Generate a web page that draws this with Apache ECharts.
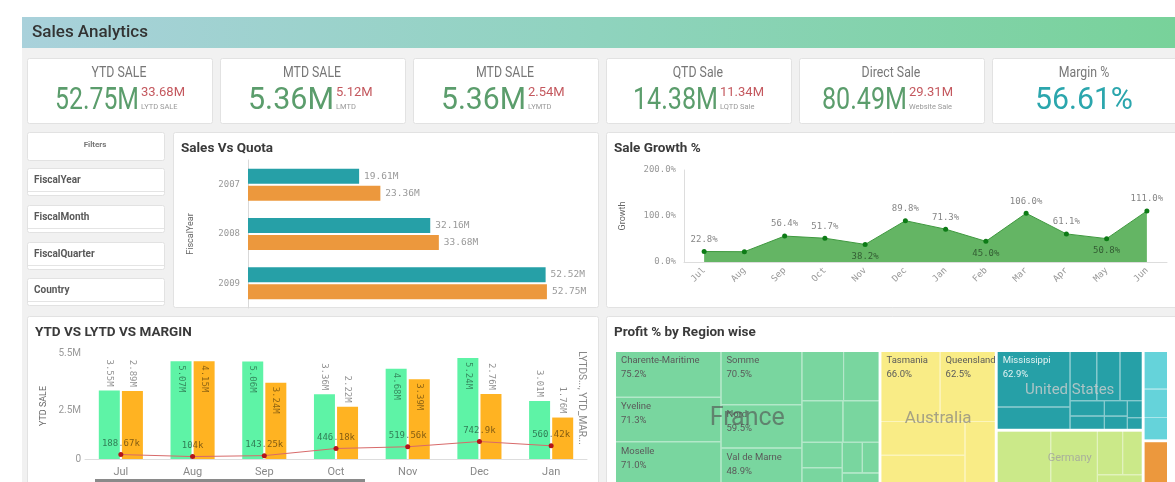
<!DOCTYPE html>
<html>
<head>
<meta charset="utf-8">
<title>Sales Analytics</title>
<script src="https://cdn.jsdelivr.net/npm/echarts@6/dist/echarts.min.js"></script>
<style>
  html, body { margin: 0; padding: 0; background: #fff; overflow: hidden; }
  #main { width: 1175px; height: 482px; }
</style>
</head>
<body>
<div id="main"></div>
<script>
// KPI tiles
const kpiTitles = ['YTD SALE', 'MTD SALE', 'MTD SALE', 'QTD Sale', 'Direct Sale', 'Margin %']
const kpiValues = ['52.75M', '5.36M', '5.36M', '14.38M', '80.49M', '56.61%']
const kpiCompare = ['33.68M', '5.12M', '2.54M', '11.34M', '29.31M', '']
const kpiCompareLabels = ['LYTD SALE', 'LMTD', 'LYMTD', 'LQTD Sale', 'Website Sale', '']

const filterFields = ['FiscalYear', 'FiscalMonth', 'FiscalQuarter', 'Country']

// Sales Vs Quota (M)
const fiscalYears = ['2007', '2008', '2009']
const quotaValues = [19.61, 32.16, 52.52]
const salesValues = [23.36, 33.68, 52.75]

// Sale Growth %
const growthMonths = ['Jul', 'Aug', 'Sep', 'Oct', 'Nov', 'Dec', 'Jan', 'Feb', 'Mar', 'Apr', 'May', 'Jun']
const growthValues = [22.8, 22.4, 56.4, 51.7, 38.2, 89.8, 71.3, 45.0, 106.0, 61.1, 50.8, 111.0]
const growthTicks = [0, 100, 200]
const growthHiddenLabels = ['Aug']

// YTD vs LYTD vs margin
const ytdMonths = ['Jul', 'Aug', 'Sep', 'Oct', 'Nov', 'Dec', 'Jan']
const ytdSale = [3.55, 5.07, 5.06, 3.36, 4.68, 5.24, 3.01]      // M
const lytdSale = [2.89, 4.15, 3.24, 2.22, 3.39, 2.76, 1.76]     // M
const ytdMargin = [188.67, 104, 143.25, 446.18, 519.56, 742.9, 560.42]  // k
const ytdTicks = [0, 2.5, 5.5]

// Profit % by region (size = area, profit = label)
const countries = ['France', 'Australia', 'United States', 'Germany', '', '']
const regionNames = [
  ['Charente-Maritime', 'Yveline', 'Moselle', 'Somme', 'Nord', 'Val de Marne', '', '', '', '', '', '', '', '', ''],
  ['Tasmania', 'Queensland', '', '', ''],
  ['Mississippi', '', '', '', '', '', '', '', '', '', ''],
  ['', '', '', '', ''],
  ['', '', ''],
  ['']
]
const regionSize = [
  [4700, 4550, 4500, 4200, 3400, 2950, 2000, 1700, 1650, 1450, 1000, 700, 600, 500, 450],
  [4070, 3800, 2770, 2500, 1900],
  [4000, 1600, 1300, 1130, 1080, 520, 450, 350, 300, 250, 170],
  [2900, 2530, 1100, 850, 480],
  [925, 700, 550],
  [1100]
]
const regionProfit = [
  [75.2, 71.3, 71.0, 70.5, 59.5, 48.9],
  [66.0, 62.5],
  [62.9],
  [], [], []
]

const countryColors = ['#79d69f', '#f9ec86', '#26a0a7', '#cbe989', '#65d3da', '#ec983d']
const countryLabelSize = [25, 17, 15, 11, 10, 10]
const countryLabelColor = ['rgba(80,80,80,0.62)', 'rgba(130,130,130,0.7)', 'rgba(205,205,205,0.8)', 'rgba(160,160,160,0.8)', '#999', '#999']

const mono = 'DejaVu Sans Mono'
const chart = echarts.init(document.getElementById('main'))

const ctx = document.createElement('canvas').getContext('2d')
function textWidth(str, font) {
  ctx.font = font
  return ctx.measureText(str).width
}

function tint(hex, t) {
  const n = parseInt(hex.slice(1), 16)
  const mix = c => Math.round(c + (255 - c) * t)
  return 'rgb(' + mix(n >> 16) + ',' + mix((n >> 8) & 255) + ',' + mix(n & 255) + ')'
}

function txt(text, x, y, font, fill, align, extra) {
  const a = align || 'left'
  return Object.assign({
    type: 'text', x: x, y: y, z: 1, silent: true,
    style: { text: text, font: font, fill: fill, align: a, verticalAlign: 'middle', textAlign: a, textVerticalAlign: 'middle' }
  }, extra || {})
}

function box(x, y, w, h) {
  return {
    type: 'rect', z: 0, silent: true,
    shape: { x: x + 0.5, y: y + 0.5, width: w, height: h, r: 2 },
    style: { fill: '#fff', stroke: '#e2e2e2', lineWidth: 1 }
  }
}

// page frame
const graphics = []
graphics.push({ type: 'rect', z: 0, silent: true, shape: { x: 22, y: 48, width: 1153, height: 434 }, style: { fill: '#f1f1f1' } })
graphics.push({
  type: 'rect', z: 0, silent: true, shape: { x: 22, y: 17, width: 1153, height: 31 },
  style: {
    fill: new echarts.graphic.LinearGradient(0, 0, 1, 0, [
      { offset: 0, color: '#a9d1db' }, { offset: 0.5, color: '#8fd3be' }, { offset: 1, color: '#78d29a' }
    ])
  }
})
graphics.push(txt('Sales Analytics', 32, 33, '500 17px Roboto', '#333'))

// KPI tiles
const kpiLeft = [27, 220, 413, 606, 799, 992]
const valueLeft = [55, 248, 441, 633, 822]
const compareLeft = [141, 336, 528, 720, 909]
kpiTitles.forEach((t, i) => {
  const cx = kpiLeft[i] + 92
  graphics.push(box(kpiLeft[i], 58, 185, 65))
  graphics.push(txt(t, cx, 73, '14px Roboto', '#777', 'center', { scaleX: 0.88 }))
  if (kpiCompare[i]) {
    const w = compareLeft[i] - 2 - valueLeft[i]
    const s = Math.min(1, w / textWidth(kpiValues[i], '32px Roboto'))
    graphics.push(txt(kpiValues[i], valueLeft[i], 101, '32px Roboto', '#5b9d6c', 'left', { scaleX: s }))
    graphics.push(txt(kpiCompare[i], compareLeft[i], 93, '13px Roboto', '#c4585e'))
    graphics.push(txt(kpiCompareLabels[i], compareLeft[i], 107, '7.5px Roboto', '#999'))
  } else {
    const s = Math.min(1, 98 / textWidth(kpiValues[i], '32px Roboto'))
    graphics.push(txt(kpiValues[i], cx, 101, '32px Roboto', '#2ba6ad', 'center', { scaleX: s }))
  }
})

// filters
graphics.push(box(27, 132, 137, 28))
graphics.push(txt('Filters', 95, 145, 'bold 8px Roboto', '#777', 'center'))
const filterTop = [168, 205, 242, 278]
filterFields.forEach((f, i) => {
  graphics.push(box(27, filterTop[i], 137, 27))
  graphics.push({
    type: 'line', z: 1, silent: true,
    shape: { x1: 28, y1: filterTop[i] + 23.5, x2: 164, y2: filterTop[i] + 23.5 },
    style: { stroke: '#e4e4e4', lineWidth: 1 }
  })
  graphics.push(txt(f, 34, filterTop[i] + 12, 'bold 10px Roboto', '#595959'))
})

// chart cards
graphics.push(box(173, 132, 425, 175))
graphics.push(box(606, 132, 575, 175))
graphics.push(box(27, 316, 571, 175))
graphics.push(box(606, 316, 575, 175))
graphics.push(txt('Sales Vs Quota', 181, 149, 'bold 13.5px Roboto', '#3a3a3a'))
graphics.push(txt('Sale Growth %', 614, 149, 'bold 13.5px Roboto', '#3a3a3a'))
graphics.push(txt('YTD VS LYTD VS MARGIN', 35, 333, 'bold 13.5px Roboto', '#3a3a3a'))
graphics.push(txt('Profit % by Region wise', 614, 333, 'bold 13.5px Roboto', '#3a3a3a'))
graphics.push(txt('LYTDS..., YTD_MAR...', 581, 398, '10px Roboto', '#888', 'center', { rotation: -Math.PI / 2 }))
graphics.push({ type: 'rect', z: 1, silent: true, shape: { x: 95, y: 479, width: 270, height: 3 }, style: { fill: '#8a8a8a' } })

// label helpers
function growthLabel(i) {
  if (growthHiddenLabels.indexOf(growthMonths[i]) >= 0) return { show: false }
  const v = growthValues[i]
  const prev = i > 0 ? growthValues[i - 1] : Infinity
  const next = i < growthValues.length - 1 ? growthValues[i + 1] : Infinity
  return { position: v < prev && v < next ? 'bottom' : 'top' }
}

function barLabel(v, max) {
  // tall bars keep their label inside, short ones above
  return v / max > 0.7
    ? { position: 'insideTop', align: 'left' }
    : { position: 'top', align: 'right' }
}

// treemap data
const treeData = countries.map((c, i) => ({
  name: c,
  itemStyle: { color: countryColors[i], borderColor: tint(countryColors[i], 0.45) },
  children: regionNames[i].map((r, j) => ({
    name: r,
    value: regionSize[i][j],
    profit: regionProfit[i][j],
    itemStyle: { color: countryColors[i] },
    label: { color: i === 2 ? '#e4f3f3' : '#5a5a5a' }
  }))
}))
const countryTotals = regionSize.map(a => a.reduce((s, v) => s + v, 0))
const overlayData = countries.map((c, i) => ({
  name: c,
  value: countryTotals[i],
  label: { fontSize: countryLabelSize[i], color: countryLabelColor[i] }
}))

const treeBox = { left: 616, top: 352, width: 551, height: 133 }

const option = {
  animation: false,
  textStyle: { fontFamily: 'Roboto' },
  graphic: graphics,
  grid: [
    { left: 248, top: 160, width: 340, height: 148 },
    { left: 684, top: 170, width: 483, height: 92 },
    { left: 85, top: 353, width: 502, height: 106 }
  ],
  xAxis: [
    { gridIndex: 0, type: 'value', min: 0, max: 60, show: false },
    {
      gridIndex: 1, type: 'category', data: growthMonths,
      axisLine: { lineStyle: { color: '#ddd' } }, axisTick: { show: false },
      axisLabel: { rotate: 45, interval: 0, margin: 7, color: '#999', fontFamily: mono, fontSize: 9 }
    },
    {
      gridIndex: 2, type: 'category', data: ytdMonths,
      axisLine: { lineStyle: { color: '#ddd' } }, axisTick: { show: false },
      axisLabel: { margin: 8, color: '#888', fontSize: 11 }
    }
  ],
  yAxis: [
    {
      gridIndex: 0, type: 'category', inverse: true, data: fiscalYears,
      name: 'FiscalYear', nameLocation: 'middle', nameGap: 53,
      nameTextStyle: { color: '#666', fontSize: 9 },
      axisLine: { lineStyle: { color: '#d9d9d9' } }, axisTick: { show: false },
      axisLabel: { margin: 8, color: '#999', fontFamily: mono, fontSize: 9 }
    },
    {
      gridIndex: 1, type: 'value', min: 0, max: 200,
      name: 'Growth', nameLocation: 'middle', nameGap: 57,
      nameTextStyle: { color: '#666', fontSize: 9 },
      axisLine: { show: true, lineStyle: { color: '#ddd' } }, axisTick: { show: false },
      splitLine: { show: false },
      axisLabel: { customValues: growthTicks, formatter: v => v.toFixed(1) + '%', margin: 8, color: '#999', fontFamily: mono, fontSize: 9 }
    },
    {
      gridIndex: 2, type: 'value', min: 0, max: 5.5,
      name: 'YTD SALE', nameLocation: 'middle', nameGap: 37,
      nameTextStyle: { color: '#666', fontSize: 9 },
      axisLine: { show: false }, axisTick: { show: false }, splitLine: { show: false },
      axisLabel: { customValues: ytdTicks, formatter: v => (v === 0 ? '0' : v + 'M'), margin: 4, color: '#999', fontSize: 10 }
    },
    { gridIndex: 2, type: 'value', min: 0, max: 4.5, show: false, splitLine: { show: false } }
  ],
  series: [
    {
      name: 'Quota', type: 'bar', xAxisIndex: 0, yAxisIndex: 0, data: quotaValues,
      barWidth: 15, barGap: '13%', itemStyle: { color: '#26a0a7' },
      label: { show: true, position: 'right', distance: 5, formatter: p => p.value.toFixed(2) + 'M', color: '#999', fontFamily: mono, fontSize: 9.5 }
    },
    {
      name: 'Sales', type: 'bar', xAxisIndex: 0, yAxisIndex: 0, data: salesValues,
      barWidth: 15, barGap: '13%', itemStyle: { color: '#ec983d' },
      label: { show: true, position: 'right', distance: 5, formatter: p => p.value.toFixed(2) + 'M', color: '#999', fontFamily: mono, fontSize: 9.5 }
    },
    {
      name: 'Growth', type: 'line', xAxisIndex: 1, yAxisIndex: 1,
      data: growthValues.map((v, i) => ({ value: v, label: growthLabel(i) })),
      symbol: 'circle', symbolSize: 5,
      itemStyle: { color: '#0d7b16' },
      lineStyle: { color: '#3f993f', width: 1 },
      areaStyle: { color: '#64b564', opacity: 1 },
      label: { show: true, distance: 5, formatter: p => p.value.toFixed(1) + '%', color: 'rgba(0,0,0,0.5)', fontFamily: mono, fontSize: 9 }
    },
    {
      name: 'YTD SALE', type: 'bar', xAxisIndex: 2, yAxisIndex: 2,
      data: ytdSale.map(v => ({ value: v, label: barLabel(v, 5.5) })),
      barWidth: 21, barGap: '10%', itemStyle: { color: '#5ef3a6' },
      label: { show: true, rotate: -90, verticalAlign: 'middle', distance: 4, formatter: p => p.value.toFixed(2) + 'M', color: 'rgba(0,0,0,0.45)', fontFamily: mono, fontSize: 9 }
    },
    {
      name: 'LYTD SALE', type: 'bar', xAxisIndex: 2, yAxisIndex: 3,
      data: lytdSale.map(v => ({ value: v, label: barLabel(v, 4.5) })),
      barWidth: 21, barGap: '10%', itemStyle: { color: '#ffb322' },
      label: { show: true, rotate: -90, verticalAlign: 'middle', distance: 4, formatter: p => p.value.toFixed(2) + 'M', color: 'rgba(0,0,0,0.45)', fontFamily: mono, fontSize: 9 }
    },
    {
      name: 'YTD_MARGIN', type: 'line', xAxisIndex: 2, yAxisIndex: 3,
      data: ytdMargin.map(v => v / 1000),
      symbol: 'circle', symbolSize: 5,
      itemStyle: { color: '#b3141a' },
      lineStyle: { color: '#d86a6a', width: 1 },
      label: { show: true, position: 'top', distance: 4, formatter: p => ytdMargin[p.dataIndex] + 'k', color: 'rgba(0,0,0,0.5)', fontFamily: mono, fontSize: 9 }
    },
    Object.assign({
      name: 'Profit', type: 'treemap', roam: false, nodeClick: false,
      breadcrumb: { show: false },
      data: treeData,
      levels: [
        { itemStyle: { borderWidth: 0, gapWidth: 3, borderColor: '#fff' } },
        { itemStyle: { borderWidth: 0, gapWidth: 1 } },
        { itemStyle: { borderWidth: 0 } }
      ],
      label: {
        show: true, position: 'insideTopLeft', distance: 2, padding: [0, 0, 0, 3],
        fontSize: 9.5, lineHeight: 14,
        formatter: p => {
          const d = p.data
          if (!d.name) return ''
          return d.profit != null ? d.name + '\n' + d.profit.toFixed(1) + '%' : d.name
        }
      }
    }, treeBox),
    // country names drawn on top of the region cells
    Object.assign({
      name: 'Country', type: 'treemap', z: 5, roam: false, nodeClick: false, silent: true,
      breadcrumb: { show: false },
      data: overlayData,
      levels: [
        { itemStyle: { borderWidth: 0, gapWidth: 3, borderColor: 'rgba(0,0,0,0)', color: 'rgba(0,0,0,0)' } },
        { itemStyle: { borderWidth: 0, borderColor: 'rgba(0,0,0,0)', color: 'rgba(0,0,0,0)' } }
      ],
      itemStyle: { color: 'rgba(0,0,0,0)', borderColor: 'rgba(0,0,0,0)' },
      label: { show: true, position: 'inside', formatter: '{b}' }
    }, treeBox)
  ]
}

chart.setOption(option)
</script>
</body>
</html>
